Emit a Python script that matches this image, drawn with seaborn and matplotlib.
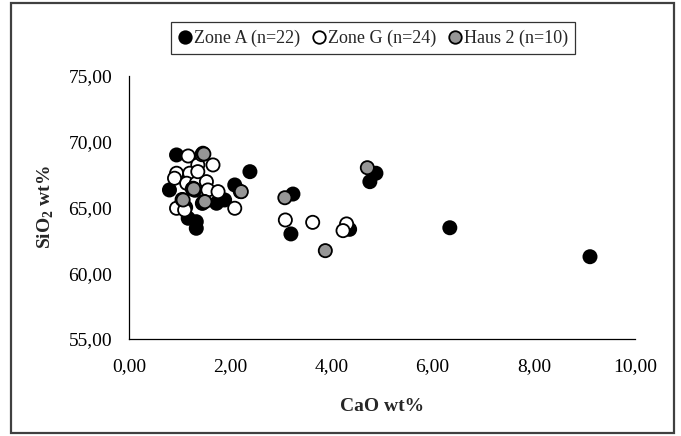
import matplotlib
matplotlib.use("Agg")
import matplotlib.pyplot as plt
from matplotlib.lines import Line2D
from matplotlib.patches import Rectangle
from matplotlib.ticker import FuncFormatter, MultipleLocator
import pandas as pd
import seaborn as sns

# CaO / SiO2 (wt%) per sample group
zone_a_cao = [0.94, 2.39, 2.09, 0.80, 1.89, 1.73, 1.17, 1.33, 1.33, 1.30, 1.05,
              1.45, 1.35, 1.22, 1.12, 4.88, 4.76, 3.24, 4.36, 3.20, 6.34, 9.11]
zone_a_sio2 = [68.98, 67.71, 66.70, 66.32, 65.56, 65.31, 64.17, 63.91, 63.41, 66.30, 65.40,
               65.30, 66.90, 67.50, 65.00, 67.59, 66.95, 66.01, 63.33, 62.98, 63.45, 61.25]

zone_g_cao = [1.17, 1.36, 1.66, 0.94, 1.20, 0.90, 1.14, 1.33, 1.53, 1.56, 1.76, 0.94,
              1.10, 2.09, 1.36, 1.05, 1.25, 1.48, 1.44, 2.20, 3.09, 3.63, 4.30, 4.23]
zone_g_sio2 = [68.90, 68.22, 68.22, 67.59, 67.59, 67.21, 66.83, 66.83, 66.95, 66.32, 66.19, 64.93,
               64.80, 64.93, 67.71, 65.60, 66.40, 65.45, 69.00, 66.20, 64.04, 63.86, 63.74, 63.23]

haus2_cao = [1.46, 1.27, 1.07, 1.50, 2.22, 1.28, 1.48, 4.71, 3.08, 3.88]
haus2_sio2 = [69.11, 66.45, 65.56, 65.43, 66.19, 66.40, 69.05, 68.01, 65.73, 61.71]

groups = ["Zone A (n=22)", "Zone G (n=24)", "Haus 2 (n=10)"]
colors = {"Zone A (n=22)": "#000000", "Zone G (n=24)": "#ffffff", "Haus 2 (n=10)": "#969696"}

df = pd.concat([
    pd.DataFrame({"CaO": zone_a_cao, "SiO2": zone_a_sio2, "group": groups[0]}),
    pd.DataFrame({"CaO": zone_g_cao, "SiO2": zone_g_sio2, "group": groups[1]}),
    pd.DataFrame({"CaO": haus2_cao, "SiO2": haus2_sio2, "group": groups[2]}),
], ignore_index=True)

sns.set_style("white")
plt.rcParams["font.family"] = ["Liberation Serif", "DejaVu Serif"]
plt.rcParams["mathtext.fontset"] = "custom"
plt.rcParams["mathtext.rm"] = "Liberation Serif"
plt.rcParams["mathtext.bf"] = "Liberation Serif:bold"

fig = plt.figure(figsize=(6.81, 4.36), dpi=100)
ax = fig.add_axes([0.1894, 0.2225, 0.7431, 0.6039])

sns.scatterplot(data=df, x="CaO", y="SiO2", hue="group", palette=colors,
                edgecolor="black", linewidth=1.3, s=90, legend=False,
                ax=ax, clip_on=False, zorder=3)

ax.set_xlim(0, 10)
ax.set_ylim(55, 75)
ax.xaxis.set_major_locator(MultipleLocator(2))
ax.yaxis.set_major_locator(MultipleLocator(5))
comma = FuncFormatter(lambda v, p: f"{v:.2f}".replace(".", ","))
ax.xaxis.set_major_formatter(comma)
ax.yaxis.set_major_formatter(comma)

for side in ("top", "right"):
    ax.spines[side].set_visible(False)
for side in ("left", "bottom"):
    ax.spines[side].set_color("black")
    ax.spines[side].set_linewidth(0.9)

ax.tick_params(axis="both", direction="out", length=4, width=0.9, color="black",
               labelsize=14, labelcolor="black", pad=8)
ax.tick_params(axis="x", pad=10)
ax.grid(False)

ax.set_xlabel("CaO wt%", fontsize=14, fontweight="bold", labelpad=16)
ax.set_ylabel(r"SiO$_\mathbf{2}$ wt%", fontsize=14, fontweight="bold", labelpad=9)

handles = [Line2D([], [], marker="o", linestyle="none", markersize=9,
                  markerfacecolor=colors[g], markeredgecolor="black",
                  markeredgewidth=1.3) for g in groups]
leg = fig.legend(handles, groups, loc="center", bbox_to_anchor=(0.548, 0.912),
                 ncol=3, fontsize=13, frameon=True, fancybox=False,
                 edgecolor="black", handlelength=0.7, handletextpad=0.15,
                 columnspacing=0.7, borderpad=0.4, borderaxespad=0)
leg.get_frame().set_linewidth(0.9)

# outer chart frame
fig.patches.append(Rectangle((0.016, 0.006), 0.974, 0.988, transform=fig.transFigure,
                             fill=False, edgecolor="#404040", linewidth=1.6))

fig.savefig("out.png", dpi=100)
